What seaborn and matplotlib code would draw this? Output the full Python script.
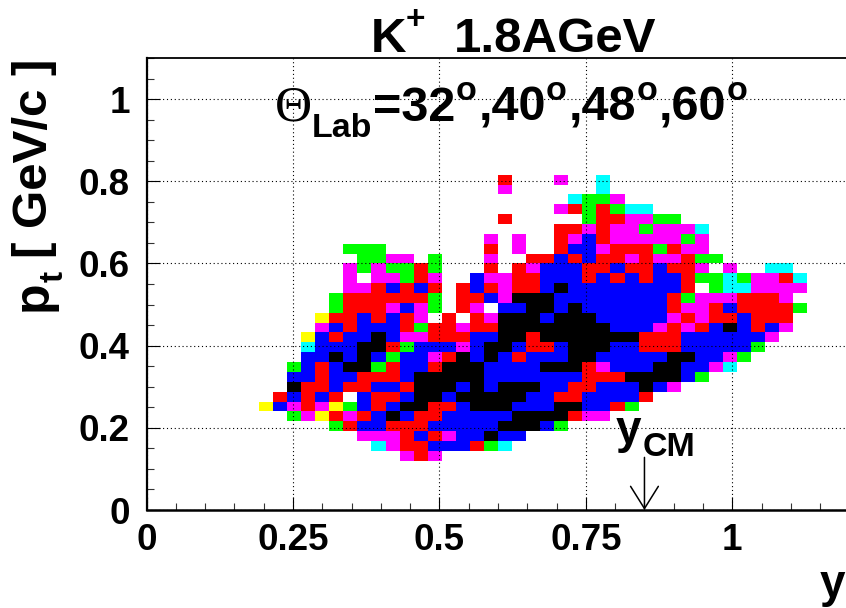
import numpy as np
import pandas as pd
import matplotlib
matplotlib.use('Agg')
import matplotlib.pyplot as plt
from matplotlib.colors import ListedColormap
import seaborn as sns

BIN = 0.024  # bin width in both y and pt

# occupancy level per cell: 0 empty, 1 yellow ... 7 black
# row_index = pt bin, first_bin = first rapidity bin written in that row
row_index = list(range(5, 34))
first_bin = [18, 16, 15, 13, 10, 8, 9, 10, 10, 10, 11, 11, 11, 12, 12, 13, 13, 14, 14, 14, 15, 14, 24, 29, 25, 29, 30, 25, 25]
row_cells = [
    "454",
    "2455666532",
    "444565466766",
    "35665" "55666" "66777" "63",
    "34154" "56765" "56666" "67777" "544",
    "16454" "13656" "77556" "77766" "67766" "53",
    "56565" "06556" "77677" "77766" "55666" "65",
    "75565" "56657" "77676" "77766" "55666" "764",
    "66566" "55567" "77776" "66666" "65557" "77763",
    "36567" "73566" "57776" "66677" "75466" "67766" "42",
    "66767" "63664" "57676" "56667" "76666" "67766" "43",
    "26667" "75366" "64677" "65567" "77665" "55666" "663",
    "16566" "76445" "55667" "75777" "77775" "55666" "6664",
    "46566" "65355" "45577" "77777" "76664" "54567" "6564",
    "15565" "65405" "05477" "76777" "66666" "45455" "6555",
    "35554" "64305" "40667" "76766" "66665" "44565" "5553",
    "35555" "55305" "56477" "76666" "66665" "34445" "554",
    "44565" "65056" "54556" "76666" "66665" "03224" "444",
    "40443" "54006" "44556" "66565" "65665" "33234" "452",
    "43433530005054666556556554040022",
    "33440300040055656554544533",
    "33300000005040056645553544",
    "4040054654444434",
    "55454434442",
    "5000003554433",
    "4535322",
    "2334",
    "40000002",
    "50004002",
]

level_colors = ['#ffff00', '#00ffff', '#00ff00', '#ff00ff', '#ff0000', '#0000ff', '#000000']
x_major = [0, 0.25, 0.5, 0.75, 1]
x_labels = ['0', '0.25', '0.5', '0.75', '1']
y_major = [0, 0.2, 0.4, 0.6, 0.8, 1]
y_labels = ['0', '0.2', '0.4', '0.6', '0.8', '1']
y_cm = 0.85

W, H = 846, 608


def label(px, py, s, size, weight='bold', family='Liberation Sans', rotation=0):
    # px, py = start of the baseline in image pixels
    fig.text(px / W, 1 - py / H, s, fontsize=size, fontweight=weight, family=family,
             ha='left', va='baseline', rotation=rotation, rotation_mode='anchor', color='black')


sns.set_theme(style='white')
plt.rcParams['font.family'] = ['Liberation Sans', 'DejaVu Sans']

grid = np.zeros((50, 50), dtype=int)
for j, start, cells in zip(row_index, first_bin, row_cells):
    grid[j, start:start + len(cells)] = [int(c) for c in cells]
df = pd.DataFrame(grid)

fig = plt.figure(figsize=(W / 100, H / 100), dpi=100)
ax = fig.add_axes([146.5 / W, 98 / H, 703 / W, 452 / H])

sns.heatmap(df, mask=df == 0, cmap=ListedColormap(level_colors), vmin=0.5, vmax=7.5,
            cbar=False, xticklabels=False, yticklabels=False, ax=ax)
ax.set_xlim(0, 1.2 / BIN)
ax.set_ylim(0, 1.1 / BIN)

ax.set_xticks(np.array(x_major) / BIN, labels=x_labels)
ax.set_yticks(np.array(y_major) / BIN, labels=y_labels)
ax.set_xticks(np.arange(0, 1.201, 0.05) / BIN, minor=True)
ax.set_yticks(np.arange(0, 1.101, 0.05) / BIN, minor=True)
ax.tick_params(which='major', direction='in', length=9.5, width=0.8, color='black', bottom=True, left=True)
ax.tick_params(which='minor', direction='in', length=5, width=0.8, color='#333333', bottom=True, left=True)
ax.tick_params(axis='x', which='major', pad=9, labelsize=26.5, labelrotation=0)
ax.tick_params(axis='y', which='major', pad=12, labelsize=26.5, labelrotation=0)
for t in ax.get_xticklabels() + ax.get_yticklabels():
    t.set_fontweight('bold')
    t.set_color('black')

ax.grid(True, which='major', color='black', linewidth=0.8, linestyle=(0, (1, 2.5)))
ax.set_axisbelow(False)

for name, lw in [('top', 1.3), ('left', 1.6), ('bottom', 1.8), ('right', 1.3)]:
    ax.spines[name].set_visible(True)
    ax.spines[name].set_linewidth(lw)
    ax.spines[name].set_color('black')
    ax.spines[name].set_zorder(5)

# arrow pointing at mid-rapidity
ax.annotate('', xy=(y_cm / BIN, 0), xytext=(y_cm / BIN, 0.128 / BIN),
            arrowprops=dict(arrowstyle='->,head_length=16,head_width=10', mutation_scale=1,
                            shrinkA=0, shrinkB=0, lw=1.1, color='black'))

# title
label(371, 52, 'K', 35.5)
label(406, 29, '+', 24)
label(454, 52, '1.8AGeV', 35.5)

# angle text
label(275, 120, '\u0398', 37, weight='normal', family='Liberation Serif')
label(312, 137, 'Lab', 24.5)
label(373, 121, '=32', 35)
label(456, 100, 'o', 24.5)
label(479, 121, ',40', 35)
label(546, 100, 'o', 24.5)
label(569, 121, ',48', 35)
label(637, 100, 'o', 24.5)
label(659, 121, ',60', 35)
label(727, 100, 'o', 24.5)

# y_CM marker
label(616, 443, 'y', 33)
label(643, 456, 'CM', 24.5)

# axis titles
label(820, 597, 'y', 33)
label(47, 311, 'p', 36, rotation=90)
label(63, 282, 't', 24, rotation=90)
label(47, 258, '[ GeV/c ]', 35.5, rotation=90)

fig.savefig('out.png', dpi=100)
